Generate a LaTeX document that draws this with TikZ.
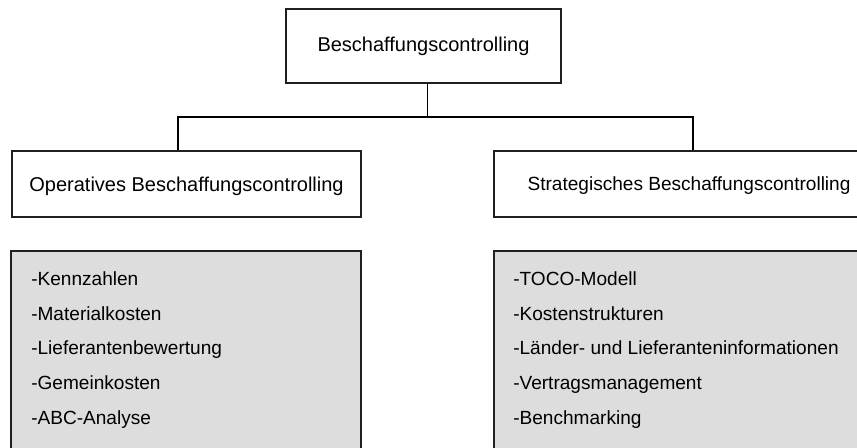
\documentclass[tikz,border=0pt]{standalone}
\usepackage{fontspec}
\setmainfont{Liberation Sans}
\definecolor{listgrey}{HTML}{DDDDDD}
\definecolor{edge}{HTML}{202020}
\begin{document}
\begin{tikzpicture}[x=0.75pt,y=-0.75pt,
  hbox/.style={draw=edge, line width=0.8pt, fill=white, inner sep=0pt, font=\fontsize{15}{18}\selectfont},
  gbox/.style={draw=edge, line width=0.8pt, fill=listgrey, inner sep=0pt},
  item/.style={anchor=base west, inner sep=0pt, font=\fontsize{14.3}{17}\selectfont},
  conn/.style={draw=black, line width=0.8pt}]
\useasboundingbox (0,0) rectangle (857,447);
\clip (0,0) rectangle (857,447);
\fill[white] (0,0) rectangle (857,447);
% top box
\node[hbox, minimum width=206.25pt, minimum height=55.5pt] (top) at (423.5,46) {Beschaffungscontrolling};
% second level
\node[hbox, minimum width=261.75pt, minimum height=49.5pt, text depth=0pt] (op) at (186.5,184) {Operatives Beschaffungscontrolling};
\node[hbox, minimum width=292.5pt, minimum height=49.5pt, text depth=0pt, font=\fontsize{14.3}{17}\selectfont] (st) at (689,184) {Strategisches Beschaffungscontrolling};
% grey lists
\node[gbox, minimum width=262.5pt, minimum height=165pt] (gl) at (186,361) {};
\node[gbox, minimum width=298.5pt, minimum height=165pt] (gr) at (693,361) {};
% connectors
\coordinate (j) at (427.7,117);
\coordinate (jl) at (178,117);
\coordinate (jr) at (693,117);
\draw[conn] (top.south -| j) -- (j);
\draw[conn] (op.north -| jl) -- (jl) -- (jr) -- (st.north -| jr);
% list items left
\node[item] (l1) at (31,285.7) {-Kennzahlen};
\node[item] (l2) at (31,320.3) {-Materialkosten};
\node[item] (l3) at (31,354.9) {-Lieferantenbewertung};
\node[item] (l4) at (31,389.5) {-Gemeinkosten};
\node[item] (l5) at (31,424.1) {-ABC-Analyse};
% list items right
\node[item] (r1) at (513,285.7) {-TOCO-Modell};
\node[item] (r2) at (513,320.3) {-Kostenstrukturen};
\node[item] (r3) at (513,354.9) {-Länder- und Lieferanteninformationen};
\node[item] (r4) at (513,389.5) {-Vertragsmanagement};
\node[item] (r5) at (513,424.1) {-Benchmarking};
\end{tikzpicture}
\end{document}
